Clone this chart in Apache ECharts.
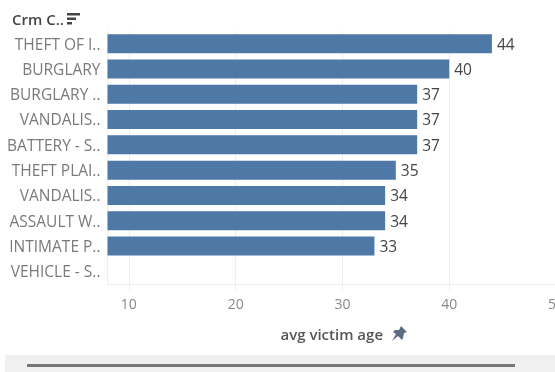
<!DOCTYPE html>
<html><head><meta charset="utf-8">
<style>html,body{margin:0;padding:0;background:#fff}#c{width:555px;height:372px}</style>
<script src="https://cdn.jsdelivr.net/npm/echarts@6/dist/echarts.min.js"></script>
</head><body><div id="c"></div>
<script>
const categories = ["THEFT OF I..","BURGLARY","BURGLARY ..","VANDALIS..","BATTERY - S..","THEFT PLAI..","VANDALIS..","ASSAULT W..","INTIMATE P..","VEHICLE - S.."];
const avgVictimAge = [44,40,37,37,37,35,34,34,33,null];
const xTicks = [10,20,30,40,50];
const font = '"Open Sans"';
const chart = echarts.init(document.getElementById('c'), null, {renderer:'canvas'});
chart.setOption({
  animation:false,
  backgroundColor:'#fff',
  title:{text:'Crm C..',left:12,top:13,padding:0,textStyle:{fontFamily:font,fontSize:15,fontWeight:600,color:'#444'}},
  grid:{left:107.5,top:31,width:448.5,height:253,outerBoundsMode:'none',containLabel:false},
  xAxis:{type:'value',min:8,max:50,
    name:'avg victim age',nameLocation:'middle',nameGap:44,
    nameTextStyle:{fontFamily:font,fontSize:15,fontWeight:600,color:'#555'},
    axisLine:{show:true,lineStyle:{color:'#eeeeee'}},
    axisTick:{show:true,length:6,lineStyle:{color:'#eeeeee'},customValues:xTicks},
    axisLabel:{fontFamily:font,fontSize:14,color:'#888',margin:14,customValues:xTicks,hideOverlap:false},
    splitLine:{show:true,lineStyle:{color:'#eeeeee'}}
  },
  yAxis:{type:'category',inverse:true,data:categories,
    axisLine:{show:true,lineStyle:{color:'#eeeeee'}},axisTick:{show:false},
    axisLabel:{fontFamily:font,fontSize:15.5,lineHeight:20,color:'#7a7a7a',margin:7,interval:0,verticalAlign:'bottom',padding:[0,0,-11.5,0]}
  },
  series:[{type:'bar',data:avgVictimAge,barWidth:19,
    itemStyle:{color:'#4e79a7'},
    label:{show:true,position:'right',distance:5,offset:[0,1.5],fontFamily:font,fontSize:15.5,color:'#444'}
  }],
  graphic:[
    {type:'rect',shape:{x:5,y:355,width:550,height:17},style:{fill:'#f0f0f0'}},
    {type:'rect',shape:{x:27,y:364,width:488,height:3},style:{fill:'#777'}},
    {type:'rect',shape:{x:67,y:13,width:13,height:2.5},style:{fill:'#444'}},
    {type:'rect',shape:{x:67,y:17.5,width:9,height:2.5},style:{fill:'#444'}},
    {type:'rect',shape:{x:67,y:22,width:5,height:2.5},style:{fill:'#444'}},
    {type:'polygon',shape:{points:[[401,326],[407,332],[404,333],[403,338],[402,340],[398,336],[392,341],[396,334],[393,332],[395,330],[399,330]]},style:{fill:'#5b6b80'}}
  ]
});
</script></body></html>
